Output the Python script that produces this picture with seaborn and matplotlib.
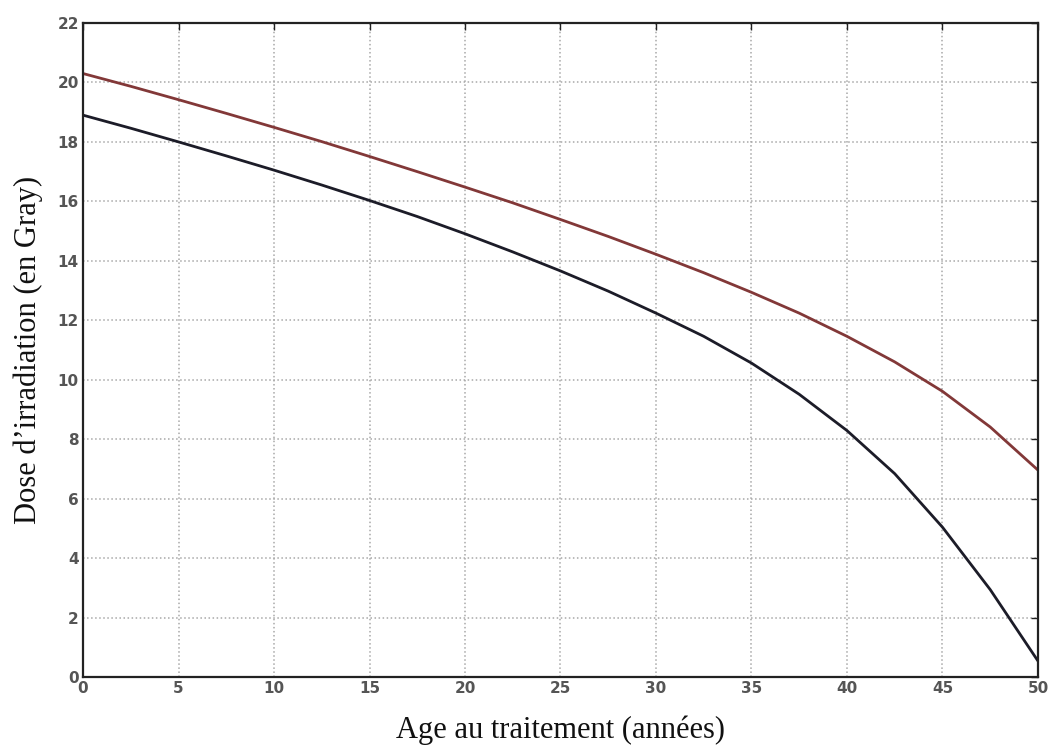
import numpy as np
import pandas as pd
import seaborn as sns
import matplotlib
matplotlib.use('Agg')
import matplotlib.pyplot as plt


# ages every 2.5 years
AGE = [0, 2.5, 5, 7.5, 10, 12.5, 15, 17.5, 20, 22.5, 25, 27.5, 30, 32.5,
       35, 37.5, 40, 42.5, 45, 47.5, 50]
DOSE_UPPER = [20.30, 19.87, 19.42, 18.96, 18.49, 18.01, 17.51, 17.00, 16.48,
              15.95, 15.39, 14.82, 14.22, 13.60, 12.94, 12.24, 11.46, 10.60,
              9.61, 8.41, 6.96]
DOSE_LOWER = [18.90, 18.46, 18.00, 17.53, 17.05, 16.55, 16.03, 15.49, 14.91,
              14.30, 13.66, 12.98, 12.24, 11.46, 10.56, 9.51, 8.29, 6.84,
              5.04, 2.94, 0.54]

X_TICKS = list(range(0, 51, 5))
Y_TICKS = list(range(0, 23, 2))

X_LABEL = 'Age au traitement (années)'
Y_LABEL = 'Dose d\u2019irradiation (en Gray)'


def build_frame():
    return pd.DataFrame({
        'age': AGE + AGE,
        'dose': DOSE_UPPER + DOSE_LOWER,
        'curve': ['upper'] * len(AGE) + ['lower'] * len(AGE)})


def main():
    sns.set_theme(style='white')
    plt.rcParams['font.family'] = ['DejaVu Sans']

    fig = plt.figure(figsize=(10.51, 7.49), dpi=100)
    ax = fig.add_axes([0.079, 0.0961, 0.9086, 0.8732])

    sns.lineplot(data=build_frame(), x='age', y='dose', hue='curve',
                 palette={'upper': '#823838', 'lower': '#1c1c28'},
                 linewidth=2.0, legend=False, ax=ax)

    ax.set_xlim(0, 50)
    ax.set_ylim(0, 22)
    ax.set_xticks(X_TICKS)
    ax.set_yticks(Y_TICKS)
    ax.grid(True, linestyle=':', linewidth=1.1, color='#a8a8a8')
    ax.tick_params(direction='in', length=5, width=1.0, color='#222222',
                   labelsize=11, labelcolor='#555555', pad=3,
                   top=True, right=True)
    for lbl in ax.get_xticklabels() + ax.get_yticklabels():
        lbl.set_fontweight('semibold')
    for side in ax.spines.values():
        side.set_color('#222222')
        side.set_linewidth(1.6)

    ax.set_xlabel(X_LABEL, family='Liberation Serif', fontsize=22,
                  color='#111111', labelpad=14)
    ax.set_ylabel(Y_LABEL, family='Liberation Serif', fontsize=22,
                  color='#111111', labelpad=10)

    fig.savefig('out.png', dpi=100, facecolor='white')
    plt.close(fig)


if __name__ == '__main__':
    main()
